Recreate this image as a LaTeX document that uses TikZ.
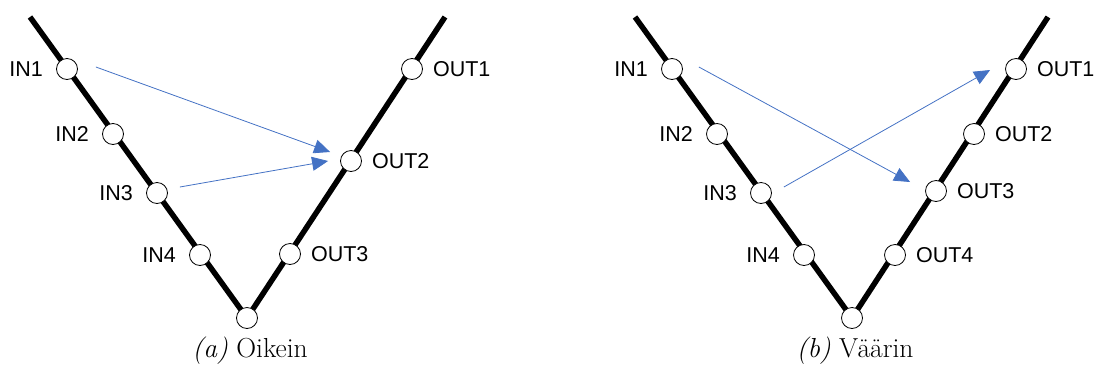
\documentclass[tikz,border=0pt]{standalone}
\usepackage{fontspec}
\newfontfamily\labelfont{Liberation Sans}
\usetikzlibrary{arrows.meta,positioning}

\tikzset{
  track/.style={line width=5.5pt, black},
  port/.style={circle, draw=black, line width=0.8pt, fill=white, minimum size=21pt, inner sep=0pt},
  inlbl/.style={font=\labelfont\fontsize{21.5}{25}\selectfont, inner sep=0pt},
  flow/.style={draw={rgb,255:red,68;green,114;blue,196}, line width=0.8pt,
    -{Triangle[length=16pt,width=14pt,fill={rgb,255:red,68;green,114;blue,196}]}},
  caption/.style={font=\fontsize{27.5}{32}\selectfont, anchor=base, inner sep=0pt}
}

\begin{document}
\begin{tikzpicture}[x=1pt, y=-1pt]
\useasboundingbox (0,0) rectangle (1095,365);

% ---------- (a) Oikein ----------
\coordinate (a-top-l) at (30,17);
\coordinate (a-top-r) at (445,17);
\coordinate (a-bot)   at (247,318);
\draw[track] (a-top-l) -- (a-bot) -- (a-top-r);

\node[port] (a-in1)  at (67,69)   {};
\node[port] (a-in2)  at (113,134) {};
\node[port] (a-in3)  at (157,193) {};
\node[port] (a-in4)  at (200,255) {};
\node[port] (a-b)    at (247,318) {};
\node[port] (a-out3) at (290,254) {};
\node[port] (a-out2) at (351,161) {};
\node[port] (a-out1) at (412,69)  {};

\node[inlbl, left=13pt of a-in1]  (a-l-in1)  {IN1};
\node[inlbl, left=13pt of a-in2]  (a-l-in2)  {IN2};
\node[inlbl, left=13pt of a-in3]  (a-l-in3)  {IN3};
\node[inlbl, left=13pt of a-in4]  (a-l-in4)  {IN4};
\node[inlbl, right=10pt of a-out1] (a-l-out1) {OUT1};
\node[inlbl, right=10pt of a-out2] (a-l-out2) {OUT2};
\node[inlbl, right=10pt of a-out3] (a-l-out3) {OUT3};

\draw[flow] ([xshift=18pt,yshift=2pt]a-in1.east) -- ([xshift=-10pt,yshift=9pt]a-out2.west);
\draw[flow] ([xshift=12pt,yshift=6pt]a-in3.east) -- ([xshift=-12pt,yshift=0pt]a-out2.west);

\node[caption] (a-cap) at (250,357) {\textit{(a)} Oikein};

% ---------- (b) Väärin ----------
\coordinate (b-top-l) at (635,17);
\coordinate (b-top-r) at (1048,17);
\coordinate (b-bot)   at (852,318);
\draw[track] (b-top-l) -- (b-bot) -- (b-top-r);

\node[port] (b-in1)  at (672,69)  {};
\node[port] (b-in2)  at (717,134) {};
\node[port] (b-in3)  at (761,193) {};
\node[port] (b-in4)  at (804,255) {};
\node[port] (b-b)    at (852,318) {};
\node[port] (b-out4) at (895,255) {};
\node[port] (b-out3) at (936,191) {};
\node[port] (b-out2) at (974,134) {};
\node[port] (b-out1) at (1016,69) {};

\node[inlbl, left=13pt of b-in1]  (b-l-in1)  {IN1};
\node[inlbl, left=13pt of b-in2]  (b-l-in2)  {IN2};
\node[inlbl, left=13pt of b-in3]  (b-l-in3)  {IN3};
\node[inlbl, left=13pt of b-in4]  (b-l-in4)  {IN4};
\node[inlbl, right=10pt of b-out1] (b-l-out1) {OUT1};
\node[inlbl, right=10pt of b-out2] (b-l-out2) {OUT2};
\node[inlbl, right=10pt of b-out3] (b-l-out3) {OUT3};
\node[inlbl, right=10pt of b-out4] (b-l-out4) {OUT4};

\draw[flow] ([xshift=16pt,yshift=2pt]b-in1.east) -- ([xshift=-15pt,yshift=9pt]b-out3.west);
\draw[flow] ([xshift=12pt,yshift=6pt]b-in3.east) -- ([xshift=-15pt,yshift=-1pt]b-out1.west);

\node[caption] (b-cap) at (855,357) {\textit{(b)} Väärin};
\end{tikzpicture}
\end{document}
